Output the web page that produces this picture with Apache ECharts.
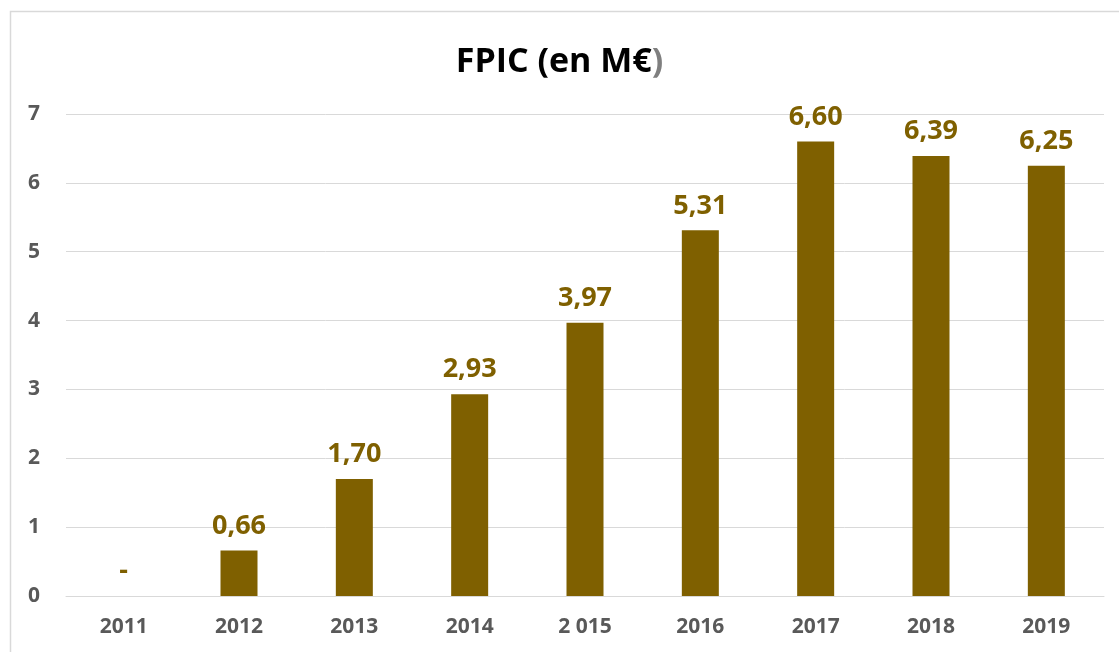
<!DOCTYPE html>
<html><head><meta charset="utf-8">
<script src="https://cdn.jsdelivr.net/npm/echarts@6/dist/echarts.min.js"></script>
<style>html,body{margin:0;padding:0;background:#fff}#c{width:1119px;height:652px}</style>
</head><body><div id="c"></div>
<script>
const categories = ["2011","2012","2013","2014","2 015","2016","2017","2018","2019"];
const values = [0, 0.66, 1.70, 2.93, 3.97, 5.31, 6.60, 6.39, 6.25];
const yTicks = [0,1,2,3,4,5,6,7];

const chart = echarts.init(document.getElementById('c'));
const FONT = '"Open Sans", "Noto Sans", sans-serif';
chart.setOption({
  animation: false,
  backgroundColor: '#fff',
  graphic: [{type:'rect', shape:{x:10.5,y:11.5,width:1200,height:700}, style:{fill:'none', stroke:'#d9d9d9', lineWidth:1.5}, silent:true}],
  title: {
    text: '{a|FPIC (en M€}{b|)}',
    left: 'center', top: 40,
    textStyle: { rich: {
      a: {fontFamily: FONT, fontWeight:'bold', fontSize: 34, color:'#000'},
      b: {fontFamily: FONT, fontWeight:'bold', fontSize: 34, color:'#7f7f7f'}
    }}
  },
  grid: {left: 66, right: 15, top: 114, bottom: 56},
  xAxis: {
    type: 'category', data: categories,
    axisLine: {lineStyle:{color:'#d9d9d9'}}, axisTick:{show:false},
    axisLabel: {color:'#595959', fontFamily: FONT, fontWeight:'bold', fontSize: 21, margin: 21}
  },
  yAxis: {
    type: 'value', min: 0, max: 7, interval: 1,
    axisLine:{show:false}, axisTick:{show:false},
    splitLine: {lineStyle:{color:'#d9d9d9', width:1}},
    axisLabel: {color:'#595959', fontFamily: FONT, fontWeight:'bold', fontSize: 21, margin: 26,
      formatter: v => yTicks.includes(v) ? String(v) : ''}
  },
  series: [{
    type: 'bar', data: values, barWidth: 37,
    itemStyle: {color:'#7f6000'},
    label: {show: true, position: 'top', distance: 11, color:'#7f6000', fontFamily: FONT, fontWeight:'bold', fontSize: 27,
      formatter: p => p.value === 0 ? '-' : p.value.toFixed(2).replace('.', ',')}
  }]
});
</script></body></html>
